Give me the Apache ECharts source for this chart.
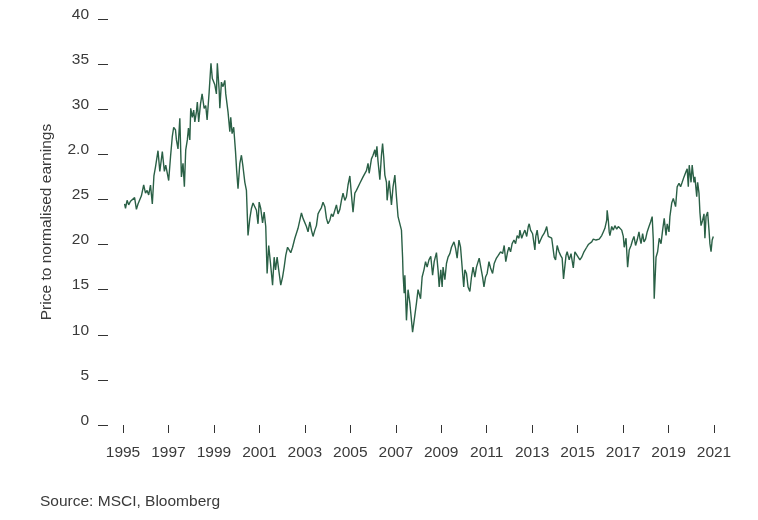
<!DOCTYPE html>
<html>
<head>
<meta charset="utf-8">
<script src="https://cdn.jsdelivr.net/npm/echarts@6/dist/echarts.min.js"></script>
<style>
  html, body { margin: 0; padding: 0; background: #ffffff; }
  #chart { width: 758px; height: 520px; }
</style>
</head>
<body>
<div id="chart"></div>
<script>
// Decimal year of each vertex
const years = [
  1995.07,1995.11,1995.18,1995.25,1995.33,1995.51,1995.59,1995.66,1995.74,1995.81,1995.91,1995.99,
  1996.06,1996.13,1996.21,1996.29,1996.36,1996.43,1996.54,1996.62,1996.73,1996.82,1996.88,1996.95,
  1997.01,1997.09,1997.17,1997.23,1997.31,1997.35,1997.42,1997.50,1997.57,1997.64,1997.70,1997.76,1997.83,1997.88,1997.94,1997.98,
  1998.05,1998.11,1998.16,1998.23,1998.27,1998.33,1998.41,1998.48,1998.57,1998.64,1998.70,1998.79,1998.87,1998.93,
  1999.04,1999.11,1999.15,1999.23,1999.26,1999.33,1999.40,1999.48,1999.52,1999.62,1999.70,1999.74,1999.80,1999.87,1999.95,
  2000.00,2000.06,2000.14,2000.21,2000.28,2000.36,2000.43,2000.50,2000.58,2000.65,2000.72,2000.80,2000.87,2000.94,2000.99,
  2001.06,2001.14,2001.21,2001.28,2001.34,2001.41,2001.49,2001.58,2001.65,2001.71,2001.78,2001.85,2001.94,
  2002.02,2002.09,2002.16,2002.24,2002.31,2002.38,2002.46,2002.56,2002.63,2002.70,2002.78,2002.85,2002.92,
  2003.00,2003.07,2003.14,2003.22,2003.29,2003.36,2003.44,2003.51,2003.58,2003.66,2003.73,2003.80,2003.88,2003.95,
  2004.02,2004.10,2004.17,2004.24,2004.32,2004.39,2004.46,2004.54,2004.61,2004.68,2004.76,2004.83,2004.90,2004.98,
  2005.05,2005.12,2005.20,2005.27,2005.42,2005.56,2005.71,2005.78,2005.83,2005.93,
  2006.00,2006.08,2006.12,2006.17,2006.22,2006.30,2006.37,2006.42,2006.47,2006.52,2006.59,2006.62,2006.71,2006.81,2006.88,2006.96,
  2007.03,2007.10,2007.18,2007.25,2007.30,2007.32,2007.37,2007.40,2007.47,2007.54,2007.62,2007.74,2007.81,2007.91,2007.98,
  2008.09,2008.16,2008.24,2008.31,2008.38,2008.46,2008.54,2008.62,2008.69,2008.79,2008.86,2008.91,2008.98,
  2009.04,2009.08,2009.16,2009.23,2009.30,2009.38,2009.45,2009.56,2009.63,2009.70,2009.78,2009.85,2009.92,2009.99,
  2010.04,2010.11,2010.18,2010.26,2010.33,2010.40,2010.48,2010.55,2010.67,2010.74,2010.82,2010.88,2010.95,
  2011.02,2011.10,2011.17,2011.26,2011.33,2011.43,2011.51,2011.61,2011.70,2011.77,2011.84,2011.92,2011.98,
  2012.05,2012.12,2012.20,2012.27,2012.34,2012.42,2012.46,2012.54,2012.61,2012.68,2012.76,2012.83,2012.87,2012.93,
  2013.02,2013.08,2013.12,2013.16,2013.22,2013.30,2013.37,2013.44,2013.52,2013.59,2013.64,2013.71,2013.78,2013.86,2013.93,2013.97,
  2014.03,2014.10,2014.18,2014.25,2014.32,2014.38,2014.49,2014.54,2014.63,2014.71,2014.81,2014.88,2014.96,
  2015.10,2015.18,2015.28,2015.40,2015.47,2015.54,2015.62,2015.69,2015.73,2015.81,2015.88,2015.95,
  2016.06,2016.13,2016.20,2016.28,2016.30,2016.35,2016.39,2016.42,2016.50,2016.57,2016.64,2016.72,2016.79,2016.86,2016.94,
  2017.01,2017.05,2017.13,2017.20,2017.27,2017.35,2017.42,2017.48,2017.55,2017.62,2017.70,2017.74,2017.79,2017.86,2017.92,2017.99,
  2018.06,2018.14,2018.21,2018.28,2018.33,2018.37,2018.45,2018.52,2018.59,2018.67,2018.74,2018.81,2018.89,2018.94,
  2019.02,2019.06,2019.14,2019.21,2019.25,2019.31,2019.38,2019.46,2019.53,2019.60,2019.68,2019.77,2019.82,2019.87,2019.91,2019.99,
  2020.04,2020.12,2020.16,2020.24,2020.28,2020.34,2020.38,2020.43,2020.50,2020.56,2020.60,2020.65,2020.72,2020.78,2020.82,2020.87,2020.92,2020.97
];

// Price to normalised earnings, in the picture's axis units
const pe = [
  24.5,24.0,24.9,24.4,24.8,25.2,23.9,24.5,24.7,25.4,26.6,25.7,
  26.0,25.5,26.6,24.5,27.6,28.6,30.4,28.1,30.3,28.1,28.8,27.9,
  27.1,29.7,32.0,33.0,32.7,31.6,30.6,34.0,27.5,29.0,26.4,30.5,31.6,32.9,31.6,35.1,
  34.1,34.9,33.6,34.7,35.8,33.6,35.6,36.7,35.1,35.4,33.8,36.9,40.1,38.4,
  37.7,36.7,40.1,37.1,35.1,38.0,37.5,38.2,36.7,34.7,32.5,34.1,32.3,33.0,30.3,
  28.2,26.2,29.0,29.9,28.6,26.9,26.0,21.0,22.9,24.0,24.6,24.7,23.8,22.3,24.7,
  24.0,22.4,23.6,22.0,16.8,19.9,17.9,15.5,18.6,17.2,18.6,17.2,15.5,
  16.4,17.5,18.8,19.7,19.9,19.1,19.7,20.7,20.9,21.8,22.7,23.5,22.9,
  23.1,22.0,21.4,22.5,21.6,20.9,21.6,22.1,23.4,23.8,24.1,24.7,24.2,22.9,
  22.3,22.7,23.4,23.1,23.8,24.4,23.4,23.9,24.9,25.7,24.9,25.3,26.6,27.6,
  25.5,23.6,25.7,26.0,26.8,27.5,28.2,29.0,27.9,29.5,
  29.9,30.5,29.7,30.9,29.2,27.2,29.9,31.2,29.7,27.7,26.9,24.9,27.1,24.4,26.4,27.7,
  25.3,23.1,23.3,21.6,18.6,16.8,14.6,16.6,11.6,15.0,13.5,10.3,11.6,13.5,15.0,
  14.0,16.4,17.2,18.1,17.5,18.3,18.7,16.6,18.1,19.1,17.2,15.3,17.2,
  15.3,17.5,16.1,17.9,18.6,19.0,19.7,20.3,19.6,18.5,20.5,19.7,19.5,15.3,
  17.2,16.8,15.3,14.8,16.4,17.5,16.4,17.5,18.5,17.5,16.4,15.3,16.4,
  16.8,18.1,17.4,16.8,17.9,18.5,18.8,19.2,19.0,19.9,18.1,19.2,19.7,
  19.2,20.1,20.5,20.1,21.0,20.7,21.6,20.7,21.2,21.6,20.9,22.0,22.3,21.6,
  21.2,21.4,19.4,20.9,21.6,20.1,20.5,20.9,21.2,21.6,22.0,20.9,20.9,20.7,20.9,18.6,
  18.3,19.9,19.2,18.8,18.5,16.2,18.8,19.2,18.3,19.0,17.4,19.2,19.0,
  18.3,18.6,19.2,19.7,20.0,19.8,20.3,20.6,20.8,20.5,20.7,20.6,
  21.0,21.4,21.8,22.7,23.8,22.7,21.4,21.0,22.0,21.6,22.1,21.7,22.0,22.0,21.6,
  20.9,19.7,20.7,17.5,19.4,19.9,20.5,20.9,19.9,20.5,21.4,20.7,20.1,21.2,20.3,20.6,
  21.4,22.0,22.5,23.1,20.5,14.0,18.6,19.2,20.7,20.1,21.6,22.9,21.0,22.3,
  21.4,23.1,24.6,25.1,24.9,24.2,26.4,26.8,26.4,26.9,27.5,28.1,28.4,26.4,28.8,26.9,
  28.8,26.9,27.5,25.3,26.9,25.7,23.6,22.1,22.7,23.4,20.7,23.1,23.6,21.6,20.1,19.2,20.5,20.9
];

// Tick labels as printed on the reference (bottom to top)
const yTickLabels = ['0', '5', '10', '15', '20', '25', '2.0', '30', '35', '40'];
const yStep = 5;
const xFirstYear = 1995;
const xLastYear = 2021;
const xStep = 2;

const yAxisTitle = 'Price to normalised earnings';
const sourceNote = 'Source: MSCI, Bloomberg';

const textColor = '#3a3a3a';
const fontFamily = '"Liberation Sans", Arial, sans-serif';

const chart = echarts.init(document.getElementById('chart'), null, { renderer: 'canvas' });

const option = {
  animation: false,
  backgroundColor: '#ffffff',
  grid: { left: 123, right: 44, top: 19, bottom: 95, containLabel: false },
  xAxis: {
    type: 'value',
    min: xFirstYear,
    max: xLastYear,
    interval: xStep,
    offset: 6,
    axisLine: { show: false },
    axisTick: { show: true, length: 8, lineStyle: { color: '#333333', width: 1 } },
    axisLabel: {
      margin: 14,
      color: textColor,
      fontFamily: fontFamily,
      fontSize: 15.5,
      formatter: function (v) { return String(Math.round(v)); }
    },
    splitLine: { show: false }
  },
  yAxis: {
    type: 'value',
    min: 0,
    max: yStep * yTickLabels.length - yStep,
    interval: yStep,
    offset: 15,
    axisLine: { show: false },
    axisTick: { show: true, length: 10, lineStyle: { color: '#333333', width: 1 } },
    axisLabel: {
      margin: 19,
      color: textColor,
      fontFamily: fontFamily,
      fontSize: 15.5,
      formatter: function (v) { return '{t|' + yTickLabels[Math.round(v / yStep)] + '}'; },
      rich: {
        t: {
          color: textColor,
          fontFamily: fontFamily,
          fontSize: 15.5,
          lineHeight: 16,
          padding: [0, 0, 9, 0]
        }
      }
    },
    splitLine: { show: false },
    name: yAxisTitle,
    nameLocation: 'middle',
    nameGap: 53,
    nameTextStyle: { color: textColor, fontFamily: fontFamily, fontSize: 15.5 }
  },
  series: [{
    type: 'line',
    data: years.map(function (y, i) { return [y, pe[i]]; }),
    showSymbol: false,
    symbol: 'none',
    lineStyle: { color: '#2a6046', width: 1.4 },
    emphasis: { disabled: true }
  }],
  graphic: [{
    type: 'text',
    left: 40,
    top: 494,
    style: { text: sourceNote, fill: textColor, font: '15.5px ' + fontFamily }
  }]
};

chart.setOption(option);
</script>
</body>
</html>
